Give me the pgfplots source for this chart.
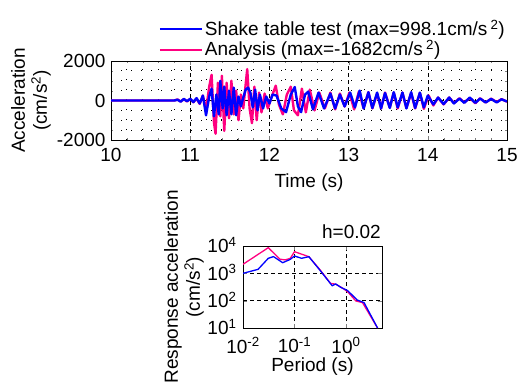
\documentclass[border=0pt]{standalone}
\usepackage{fontspec}
\setmainfont{Liberation Sans}
\usepackage{pgfplots}
\pgfplotsset{compat=1.18}
\definecolor{mblue}{RGB}{0,0,255}
\definecolor{mpink}{RGB}{255,0,128}
\newcommand{\fs}{\fontsize{19}{22}\selectfont}
\pgfplotstableread{
t a
10.00 0
10.80 0
10.84 40
10.88 -60
10.92 80
10.96 -40
11.00 90
11.04 -80
11.08 120
11.12 -150
11.16 250
11.20 -750
11.24 200
11.27 600
11.30 -800
11.33 300
11.36 -700
11.38 998.1
11.41 -400
11.43 700
11.46 -750
11.49 500
11.52 -700
11.55 650
11.58 -750
11.61 200
11.64 -300
11.67 150
11.70 550
11.73 650
11.76 400
11.79 -350
11.82 550
11.85 -500
11.88 300
11.92 -400
11.96 200
12.00 -150
12.04 300
12.09 250
12.15 -400
12.21 -590
12.27 300
12.32 680
12.36 -300
12.40 -590
12.45 300
12.49 450
12.55 -450
12.62 400
12.69 -400
12.77 350
12.83 -400
12.89 300
12.95 -300
13.02 400
13.08 -350
13.14 500
13.19 -400
13.25 420
13.30 -380
13.36 400
13.41 -400
13.46 380
13.52 -380
13.57 420
13.62 -350
13.68 400
13.73 -400
13.79 420
13.84 -380
13.90 400
13.95 -350
14.00 250
14.07 -200
14.13 150
14.20 -180
14.27 150
14.33 -150
14.40 100
14.46 -120
14.53 150
14.60 -120
14.66 100
14.73 -100
14.80 80
14.87 -100
14.93 60
15.00 -50
}\shake
\pgfplotstableread{
t a
10.00 0
10.80 0
10.84 50
10.88 -50
10.92 70
10.96 -50
11.00 80
11.04 -90
11.08 100
11.12 -170
11.16 250
11.20 -500
11.24 700
11.27 1300
11.30 -1100
11.32 -1682
11.35 900
11.38 -800
11.40 1250
11.43 -1540
11.46 900
11.49 -900
11.52 1000
11.55 -700
11.58 500
11.61 -1000
11.64 300
11.67 -400
11.70 800
11.72 1590
11.75 -400
11.78 -1150
11.81 700
11.84 -1000
11.87 400
11.90 -600
11.94 350
11.98 -400
12.03 200
12.08 750
12.12 -200
12.17 -700
12.22 300
12.27 700
12.31 -500
12.36 -750
12.41 600
12.46 -600
12.51 550
12.57 -500
12.63 400
12.70 -400
12.77 400
12.83 -450
12.89 350
12.95 -300
13.01 400
13.07 -450
13.13 450
13.19 -400
13.25 420
13.30 -400
13.36 350
13.41 -400
13.46 400
13.52 -350
13.57 400
13.62 -400
13.68 400
13.73 -380
13.79 380
13.84 -400
13.90 380
13.95 -420
14.01 250
14.07 -250
14.13 150
14.20 -200
14.27 150
14.33 -130
14.40 110
14.46 -100
14.53 130
14.60 -140
14.66 110
14.73 -100
14.80 90
14.87 -80
14.93 70
15.00 -60
}\analysis
\pgfplotstableread{
T S
0.0100 1000
0.0196 1400
0.0310 3550
0.0390 4100
0.0590 2450
0.0830 3250
0.1000 4300
0.1370 3550
0.1900 4070
0.3160 1260
0.5400 350
0.6300 410
0.7850 310
1.0700 235
1.6600 105
2.2400 85
4.1000 10
}\specA
\pgfplotstableread{
T S
0.0100 2140
0.0310 8700
0.0520 3300
0.0660 3100
0.0830 3550
0.1000 6200
0.1900 4070
0.3160 1320
0.5000 430
0.6300 400
0.7850 320
1.0700 215
1.5500 98
2.0900 85
4.1000 10
}\specB
\begin{document}
\fs
\begin{tikzpicture}[x=1pt,y=1pt]
\useasboundingbox (0,0) rectangle (521,-387);
\begin{axis}[
  scale only axis, width=396pt, height=79pt,
  at={(111pt,-61pt)}, anchor=north west,
  xmin=10, xmax=15, ymin=-2000, ymax=2000,
  xtick={10,11,12,13,14,15}, xticklabels={10,11,12,13,14,15},
  ytick={-2000,0,2000}, yticklabels={-2000,0,2000},
  minor x tick num=4, minor y tick num=3,
  grid=both,
  major grid style={black, dash pattern=on 4pt off 3pt, line width=0.6pt},
  minor grid style={black, dash pattern=on 1.2pt off 8.8pt, line width=0.8pt},
  tick align=inside, major tick length=4pt, minor tick length=2pt,
  axis line style={line width=0.9pt},
  every tick label/.append style={font=\fs},
  x tick label style={yshift=-2pt},
  y tick label style={xshift=1pt},
  label style={font=\fs},
  xlabel={Time (s)},
  xlabel style={yshift=1pt},
  ylabel={Acceleration\\(cm/s\textsuperscript{2})},
  ylabel style={align=center, at={(axis description cs:-0.202,0.5)}, anchor=center},
  legend style={at={(1,1)}, anchor=south east, draw=none, fill=none, font=\fs, inner sep=0pt, row sep=-2pt},
  legend cell align=left,
  legend image code/.code={\draw[#1] (0pt,0pt) -- (42pt,0pt);},
]
\addlegendimage{mblue, line width=2pt}
\addlegendentry{Shake table test (max=998.1cm/s\,\textsuperscript{2})}
\addlegendimage{mpink, line width=2pt}
\addlegendentry{Analysis (max=-1682cm/s\,\textsuperscript{2})}
\addplot[mpink, line width=2.4pt, line join=round, forget plot] table[x=t,y=a] {\analysis};
\addplot[mblue, line width=2.4pt, line join=round, forget plot] table[x=t,y=a] {\shake};
\end{axis}
\begin{axis}[
  scale only axis, width=139pt, height=82pt,
  at={(243pt,-246pt)}, anchor=north west,
  xmode=log, ymode=log,
  xmin=0.01, xmax=5, ymin=10, ymax=10000,
  xtick={0.01,0.1,1},
  xticklabels={10\textsuperscript{-2},10\textsuperscript{-1},10\textsuperscript{0}},
  ytick={10,100,1000,10000},
  yticklabels={10\textsuperscript{1},10\textsuperscript{2},10\textsuperscript{3},10\textsuperscript{4}},
  xminorticks=false, yminorticks=false,
  grid=major,
  major grid style={black, dash pattern=on 4pt off 3pt, line width=0.6pt},
  tick align=inside, major tick length=4pt,
  axis line style={line width=0.9pt},
  every tick label/.append style={font=\fs},
  x tick label style={yshift=-3pt},
  y tick label style={yshift=1pt},
  label style={font=\fs},
  title={h=0.02}, title style={at={(1,1)}, anchor=south east, font=\fs, inner sep=1pt},
  xlabel={Period (s)},
  xlabel style={yshift=8pt},
  ylabel={Response acceleration\\(cm/s\textsuperscript{2})},
  ylabel style={align=center, at={(axis description cs:-0.424,0.5)}, anchor=center},
]
\addplot[mpink, line width=1.3pt, line join=round] table[x=T,y=S] {\specB};
\addplot[mblue, line width=1.3pt, line join=round] table[x=T,y=S] {\specA};
\end{axis}
\end{tikzpicture}
\end{document}
